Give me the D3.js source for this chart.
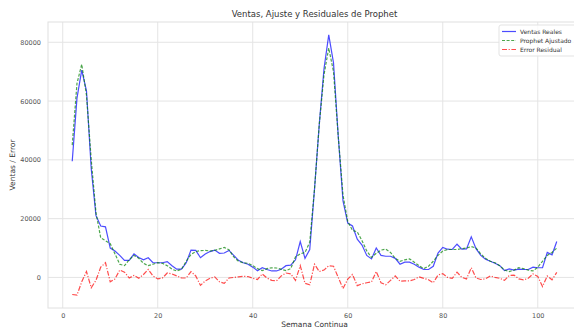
<!DOCTYPE html>
<html>
<head>
<meta charset="utf-8">
<script src="https://cdn.jsdelivr.net/npm/d3@7"></script>
<style>
  body { margin: 0; background: #fff; }
  svg text { font-family: "DejaVu Sans", sans-serif; }
</style>
</head>
<body>
<div id="chart"></div>
<script>
'use strict';

// semanas 2..104
const weeks = d3.range(2, 105);

const ventasReales = [39500, 61000, 70500, 63500, 37000, 21000, 17500, 17200, 10000, 9000,
  7500, 5800, 5800, 8000, 6800, 6000, 6700, 5000, 5000, 5000,
  5400, 4000, 2800, 2800, 5000, 9300, 9200, 6700, 8000, 8800,
  9300, 8200, 8300, 9200, 7500, 5800, 5000, 4500, 3500, 2300,
  3300, 2700, 2200, 2200, 2800, 4000, 4200, 6000, 12200, 6500,
  9500, 30000, 52000, 71000, 82500, 73000, 48000, 26000, 18500, 17500,
  13000, 11000, 7500, 6300, 10000, 7500, 7200, 7200, 6500, 4500,
  5200, 5200, 4500, 3500, 2700, 2700, 3800, 8300, 10200, 9600,
  9500, 11300, 9600, 9700, 13800, 9800, 7500, 6200, 5500, 4800,
  4000, 2300, 2900, 2500, 2800, 2700, 2700, 3500, 3300, 3300,
  8500, 7700, 12200];

const prophetAjustado = [45000, 66000, 72500, 62000, 40000, 22000, 13500, 12500, 11500, 8000,
  4500, 4000, 6000, 7500, 6500, 4800, 4000, 4500, 5000, 4800,
  4000, 2800, 2200, 2800, 5500, 7800, 8800, 9100, 9200, 9000,
  9200, 9700, 10200, 9400, 7000, 5500, 5000, 4800, 4000, 3000,
  2300, 3000, 3300, 3200, 2800, 2300, 3000, 7000, 8000, 8500,
  12000, 30000, 52000, 69000, 78000, 70000, 48000, 28000, 19000, 16000,
  15500, 12500, 9000, 6800, 8200, 9300, 9600, 8500, 6500, 5500,
  6000, 6300, 5200, 4000, 3000, 3800, 5500, 7500, 9000, 9500,
  9500, 9500, 9800, 10000, 10500, 10000, 8000, 6500, 5500, 5000,
  4000, 2500, 2000, 2500, 3300, 3000, 2500, 2200, 3500, 5500,
  7500, 8500, 10000];

const errorResidual = [-5800, -6000, -1500, 2000, -3500, -1000, 3500, 5000, -1500, -500,
  2500, 1800, -200, 700, -300, 1000, 2700, 500, -500, -200,
  1500, 1200, 500, -200, -200, 2000, 500, -2700, -1200, -300,
  200, -1500, -2000, -200, 0, 200, 400, 300, -300, -700,
  1200, -200, -1000, -1200, 500, 1500, 1200, -1000, 4000, -2000,
  -2500, 4500, 2000, 2500, 4000, 3800, 0, -3800, -600, 1000,
  -2800, -2200, -1800, -1500, 2000, -1800, -2500, -1000, 500, -1300,
  -1200, -1200, -700, 200, -300, -800, -1800, 800, 1300, 0,
  -300, 1800, 0, -500, 3300, -200, -700, -500, 500, 0,
  -300, -1000, 700, 800, -500, -800, -300, 1200, 300, -3100,
  500, -800, 1700];

const xTicks = [0, 20, 40, 60, 80, 100];
const yTicks = [0, 20000, 40000, 60000, 80000];

const W = 574, H = 330;
const margin = {top: 22, right: -7, bottom: 22, left: 48};

const svg = d3.select('#chart').append('svg')
  .attr('width', W)
  .attr('height', H);

const x = d3.scaleLinear()
  .domain([-3.1, 109.1])
  .range([margin.left, W - margin.right]);

const y = d3.scaleLinear()
  .domain([-10400, 86900])
  .range([H - margin.bottom, margin.top]);

const grid = '#e4e4e4';

// rejilla
svg.append('g').selectAll('line.vx')
  .data(xTicks).enter().append('line')
    .attr('x1', d => x(d)).attr('x2', d => x(d))
    .attr('y1', y.range()[0]).attr('y2', y.range()[1])
    .attr('stroke', grid).attr('stroke-width', 1);

svg.append('g').selectAll('line.hy')
  .data(yTicks).enter().append('line')
    .attr('x1', x.range()[0]).attr('x2', x.range()[1])
    .attr('y1', d => y(d)).attr('y2', d => y(d))
    .attr('stroke', grid).attr('stroke-width', 1);

// marco
svg.append('rect')
  .attr('x', x.range()[0]).attr('y', y.range()[1])
  .attr('width', x.range()[1] - x.range()[0])
  .attr('height', y.range()[0] - y.range()[1])
  .attr('fill', 'none').attr('stroke', '#e0e0e0').attr('stroke-width', 1);

// ejes
const xAxis = svg.append('g')
  .attr('transform', `translate(0,${y.range()[0]})`)
  .call(d3.axisBottom(x).tickValues(xTicks).tickSize(0).tickPadding(5));
const yAxis = svg.append('g')
  .attr('transform', `translate(${x.range()[0]},0)`)
  .call(d3.axisLeft(y).tickValues(yTicks).tickFormat(d3.format('d')).tickSize(0).tickPadding(7));

[xAxis, yAxis].forEach(g => {
  g.select('.domain').remove();
  g.selectAll('text')
    .attr('fill', '#555')
    .style('font-size', '6.5px')
    .style('font-family', '"DejaVu Sans", sans-serif');
});

const line = d3.line()
  .x((d, i) => x(weeks[i]))
  .y(d => y(d));

const series = [
  {name: 'Ventas Reales', data: ventasReales, color: 'blue', dash: null},
  {name: 'Prophet Ajustado', data: prophetAjustado, color: 'green', dash: '3,1.6'},
  {name: 'Error Residual', data: errorResidual, color: 'red', dash: '5,1.6,1.2,1.6'}
];

svg.append('g').selectAll('path')
  .data(series).enter().append('path')
    .attr('d', d => line(d.data))
    .attr('fill', 'none')
    .attr('stroke', d => d.color)
    .attr('stroke-opacity', 0.7)
    .attr('stroke-width', 1.2)
    .attr('stroke-dasharray', d => d.dash);

// título y etiquetas
svg.append('text')
  .attr('x', (x.range()[0] + x.range()[1]) / 2)
  .attr('y', 17)
  .attr('text-anchor', 'middle')
  .attr('fill', '#333')
  .style('font-size', '8.5px')
  .text('Ventas, Ajuste y Residuales de Prophet');

svg.append('text')
  .attr('x', (x.range()[0] + x.range()[1]) / 2)
  .attr('y', 327)
  .attr('text-anchor', 'middle')
  .attr('fill', '#333')
  .style('font-size', '7.5px')
  .text('Semana Continua');

svg.append('text')
  .attr('transform', `translate(15,${(y.range()[0] + y.range()[1]) / 2}) rotate(-90)`)
  .attr('text-anchor', 'middle')
  .attr('fill', '#333')
  .style('font-size', '7.5px')
  .text('Ventas / Error');

// leyenda
const lg = svg.append('g').attr('transform', 'translate(499,25)');
lg.append('rect')
  .attr('x', 0).attr('y', 0)
  .attr('width', 90).attr('height', 31)
  .attr('rx', 2)
  .attr('fill', '#fff').attr('fill-opacity', 0.8)
  .attr('stroke', '#e3e3e3');

const item = lg.selectAll('g.item')
  .data(series).enter().append('g')
    .attr('transform', (d, i) => `translate(0,${6.5 + i * 9})`);

item.append('line')
  .attr('x1', 3).attr('x2', 17)
  .attr('y1', 0).attr('y2', 0)
  .attr('stroke', d => d.color)
  .attr('stroke-opacity', 0.7)
  .attr('stroke-width', 1.2)
  .attr('stroke-dasharray', d => d.dash);

item.append('text')
  .attr('x', 21).attr('y', 2.2)
  .attr('fill', '#333')
  .style('font-size', '6px')
  .text(d => d.name);
</script>
</body>
</html>
